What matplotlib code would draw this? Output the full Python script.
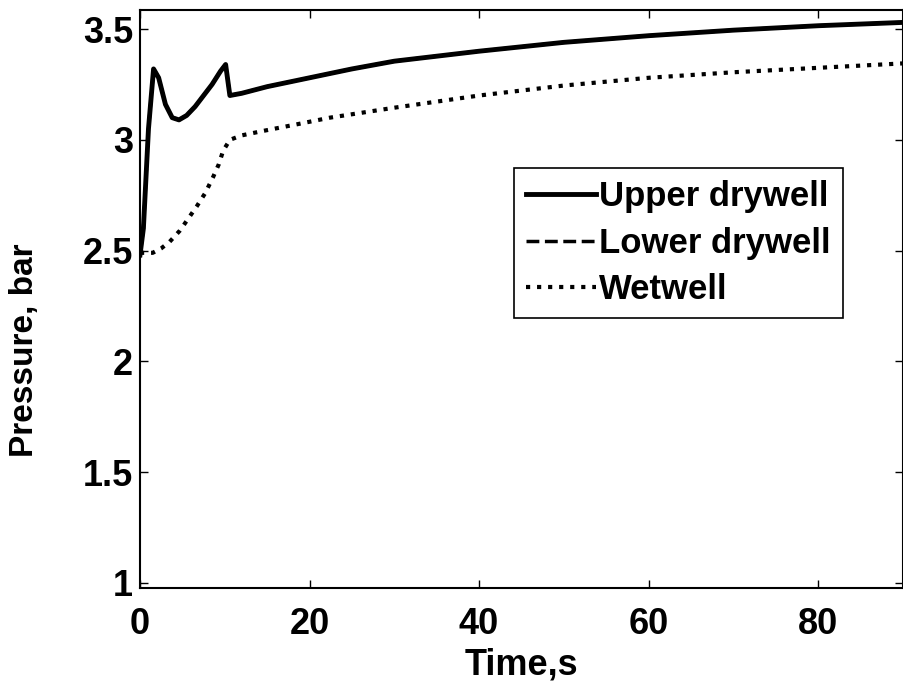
import matplotlib.pyplot as plt
import numpy as np

plt.rcParams['font.family'] = ['Liberation Sans', 'DejaVu Sans']

# ---------------- DATA ----------------

t_upper = [0, 0.4, 1.0, 1.6, 2.2, 3.0, 3.8, 4.6, 5.5, 6.5, 7.5, 8.5, 9.5, 10.1, 10.6,
           12, 15, 20, 25, 30, 40, 50, 60, 70, 80, 90]
p_upper = [2.48, 2.60, 3.05, 3.32, 3.28, 3.16, 3.10, 3.09, 3.11, 3.15, 3.20, 3.25, 3.31, 3.34, 3.20,
           3.21, 3.24, 3.28, 3.32, 3.355, 3.40, 3.44, 3.47, 3.495, 3.515, 3.53]

t_lower = t_upper
p_lower = p_upper

t_wet = [0, 0.5, 1.5, 2.5, 3.5, 4.7, 5.7, 6.7, 7.7, 8.6, 9.3, 9.8, 10.6, 12, 14.5, 18.5, 22.4,
         30, 40, 50, 60, 70, 80, 90]
p_wet = [2.49, 2.49, 2.49, 2.51, 2.54, 2.59, 2.645, 2.70, 2.76, 2.83, 2.89, 2.95, 3.00, 3.02, 3.04, 3.07, 3.10,
         3.145, 3.20, 3.245, 3.28, 3.305, 3.325, 3.345]

labels = ["Upper drywell", "Lower drywell", "Wetwell"]

# ---------------- PLOT ----------------

fig = plt.figure(figsize=(9.04, 6.84), dpi=100)
ax = fig.add_axes([140 / 904, 1 - 588 / 684, 763 / 904, 578 / 684])

ax.plot(t_lower, p_lower, color="black", linestyle="--", linewidth=2.5, label=labels[1], zorder=2)
ax.plot(t_upper, p_upper, color="black", linestyle="-", linewidth=3.5, label=labels[0], zorder=3)
ax.plot(t_wet, p_wet, color="black", linestyle=":", linewidth=3, label=labels[2], zorder=2)

ax.set_xlim(0, 90)
ax.set_ylim(0.977, 3.586)
ax.set_xticks([0, 20, 40, 60, 80])
ax.set_yticks([1, 1.5, 2, 2.5, 3, 3.5])
ax.set_yticklabels(["1", "1.5", "2", "2.5", "3", "3.5"])
ax.tick_params(direction="in", top=True, right=True, length=6, width=1, labelsize=26)
ax.tick_params(axis="x", pad=14)
ax.tick_params(axis="y", pad=5)
for lab in ax.get_xticklabels() + ax.get_yticklabels():
    lab.set_fontweight("bold")
for s in ax.spines.values():
    s.set_linewidth(1.5)

ax.set_xlabel("Time,s", fontsize=26, fontweight="bold", labelpad=4)
fig.text(25 / 904, 1 - 350 / 684, "Pressure, bar", rotation=90, fontsize=24,
         fontweight="bold", ha="center", va="center")

handles, labs = ax.get_legend_handles_labels()
order = [labs.index(l) for l in labels]
leg = ax.legend([handles[i] for i in order], [labs[i] for i in order],
                loc="upper left", bbox_to_anchor=(374 / 763, 1 - 158 / 578),
                prop={"size": 25, "weight": "bold"}, frameon=True, fancybox=False,
                edgecolor="black", framealpha=1,
                handlelength=2.0, handletextpad=0.1, borderpad=0.35, labelspacing=0.39,
                borderaxespad=0)
leg.get_frame().set_linewidth(1.2)

plt.savefig("out.png", dpi=100)
